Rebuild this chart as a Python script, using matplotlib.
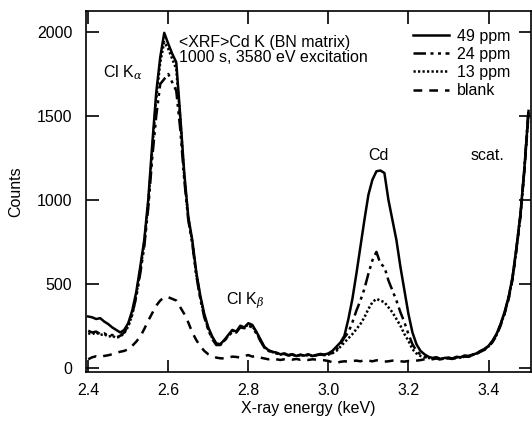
import numpy as np
import matplotlib
matplotlib.use('Agg')
import matplotlib.pyplot as plt

plt.rcParams['font.family'] = ['Liberation Sans', 'DejaVu Sans']
plt.rcParams['mathtext.fontset'] = 'dejavuserif'

# energy channels (keV), 0.01 keV spacing
energy = np.round(np.arange(2.40, 3.505, 0.01), 2)

cd_49 = [305, 300, 290, 295, 275, 260, 240, 225, 210, 225,
         265, 340, 450, 600, 760, 1000, 1330, 1640, 1850, 1995,
         1930, 1870, 1820, 1500, 1160, 900, 760, 570, 430, 320,
         240, 185, 145, 140, 165, 195, 225, 215, 250, 240,
         265, 255, 215, 170, 125, 105, 95, 90, 80, 85,
         75, 80, 70, 78, 72, 80, 70, 76, 82, 78,
         85, 100, 125, 150, 190, 290, 410, 560, 720, 880,
         1030, 1120, 1170, 1175, 1160, 1000, 880, 760, 600, 460,
         320, 210, 140, 100, 80, 65, 58, 62, 52, 58,
         60, 55, 65, 62, 72, 70, 78, 85, 100, 112,
         130, 160, 200, 260, 330, 420, 540, 720, 920, 1200,
         1530]

cd_24 = [220, 210, 215, 200, 205, 190, 195, 180, 190, 210,
         250, 320, 420, 560, 720, 950, 1250, 1500, 1690, 1720,
         1750, 1700, 1650, 1420, 1120, 880, 740, 550, 410, 300,
         225, 170, 135, 135, 160, 185, 215, 210, 240, 235,
         250, 240, 205, 160, 120, 100, 92, 85, 80, 82,
         72, 78, 68, 75, 70, 76, 68, 74, 78, 75,
         80, 88, 105, 140, 180, 210, 270, 340, 400, 470,
         560, 640, 690, 620, 600, 520, 460, 400, 330, 270,
         200, 140, 100, 78, 65, 60, 55, 60, 50, 56,
         58, 54, 62, 60, 70, 68, 76, 84, 98, 110,
         128, 158, 198, 255, 325, 415, 535, 715, 915, 1195,
         1540]

cd_13 = [205, 200, 210, 195, 200, 185, 190, 178, 185, 205,
         245, 315, 430, 580, 740, 980, 1300, 1600, 1820, 1940,
         1900, 1840, 1780, 1480, 1140, 890, 750, 560, 420, 310,
         230, 175, 140, 138, 162, 190, 220, 212, 245, 238,
         258, 248, 210, 165, 122, 102, 93, 88, 78, 84,
         74, 79, 69, 76, 71, 78, 69, 75, 80, 76,
         78, 86, 100, 125, 150, 175, 200, 230, 260, 300,
         350, 390, 410, 400, 390, 360, 330, 290, 250, 200,
         160, 110, 85, 70, 62, 58, 55, 58, 50, 55,
         57, 53, 60, 60, 68, 67, 75, 83, 97, 108,
         126, 155, 195, 252, 322, 410, 530, 710, 910, 1190,
         1520]

blank = [50, 62, 68, 64, 70, 74, 80, 88, 95, 100,
         110, 130, 155, 185, 230, 280, 325, 370, 400, 420,
         420, 410, 400, 360, 320, 270, 210, 165, 128, 100,
         80, 70, 60, 56, 55, 60, 66, 64, 60, 70,
         75, 66, 70, 60, 55, 50, 55, 50, 46, 50,
         50, 48, 52, 47, 50, 46, 50, 48, 46, 44,
         40, 32, 28, 35, 38, 36, 40, 42, 38, 45,
         42, 38, 44, 40, 36, 38, 42, 40, 38, 36,
         40, 38, 42, 45, 50, 52, 50, 55, 48, 54,
         55, 52, 58, 58, 66, 65, 73, 82, 95, 106,
         124, 152, 192, 250, 320, 405, 525, 705, 905, 1185,
         1510]

labels = ['49 ppm', '24 ppm', '13 ppm', 'blank']
xticks = [2.4, 2.6, 2.8, 3.0, 3.2, 3.4]
yticks = [0, 500, 1000, 1500, 2000]

fig = plt.figure(figsize=(5.32, 4.25), dpi=100)
ax = fig.add_axes([0.162, 0.125, 0.836, 0.849])

ax.plot(energy, cd_49, color='black', lw=1.8, ls='-', label=labels[0])
ax.plot(energy, cd_24, color='black', lw=1.8, ls=(0, (5, 1.8, 1.2, 1.8, 1.2, 1.8)), label=labels[1])
ax.plot(energy, cd_13, color='black', lw=1.8, ls=(0, (0.9, 0.9)), label=labels[2])
ax.plot(energy, blank, color='black', lw=1.8, ls=(0, (3.5, 2.8)), label=labels[3])

ax.set_xlim(2.395, 3.506)
ax.set_ylim(-25, 2125)
ax.set_xticks(xticks)
ax.set_xticklabels(['%.1f' % t for t in xticks])
ax.set_yticks(yticks)
ax.tick_params(direction='in', length=9, width=1.2, top=True, right=True, labelsize=11.5)
ax.tick_params(axis='x', pad=8)
ax.tick_params(axis='y', pad=10)
for s in ax.spines.values():
    s.set_linewidth(1.2)

ax.set_xlabel('X-ray energy (keV)', fontsize=11.5, labelpad=2)
ax.set_ylabel('Counts', fontsize=11.5, labelpad=10)

ax.text(2.628, 1985, '<XRF>Cd K (BN matrix)\n1000 s, 3580 eV excitation', fontsize=11.5,
        va='top', ha='left', linespacing=1.0)
ax.text(2.437, 1760, r'Cl K$_\alpha$', fontsize=11.5, va='center')
ax.text(2.745, 400, r'Cl K$_\beta$', fontsize=11.5, va='center')
ax.text(3.125, 1262, 'Cd', fontsize=11.5, ha='center', va='center')
ax.text(3.355, 1262, 'scat.', fontsize=11.5, ha='left', va='center')

ax.legend(loc='upper right', bbox_to_anchor=(0.96, 0.96), frameon=False, fontsize=11.5,
          handlelength=2.3, handletextpad=0.45, labelspacing=0.2, borderaxespad=0.0,
          borderpad=0.2)

fig.savefig('out.png', dpi=100)
